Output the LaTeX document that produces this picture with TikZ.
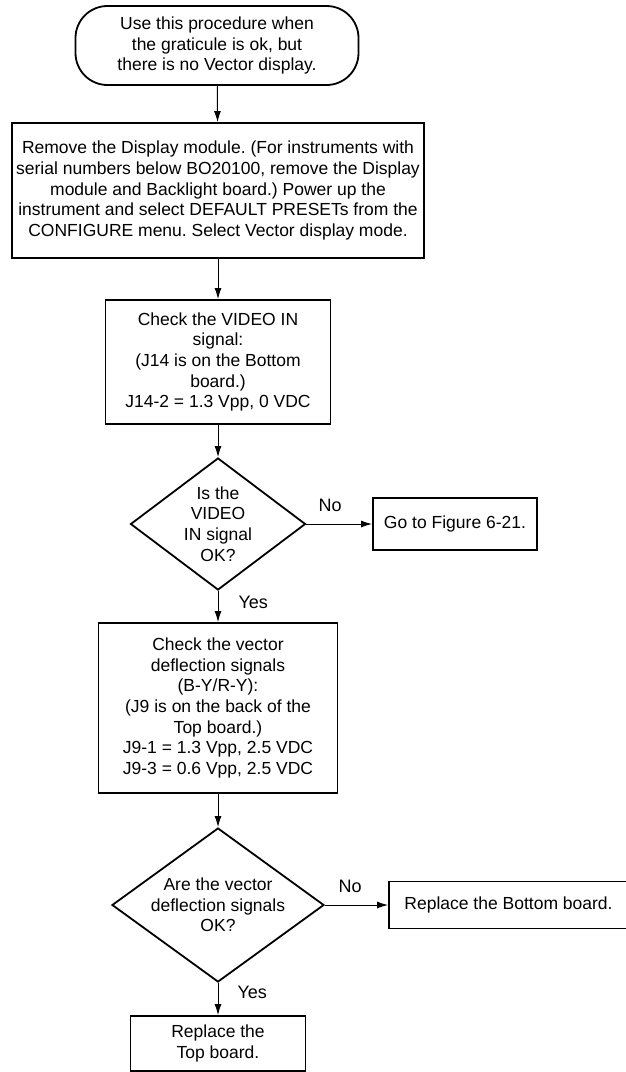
\documentclass[tikz,border=0pt]{standalone}
\usepackage{fontspec}
\setmainfont{Liberation Sans}
\usepackage{tikz}
\usetikzlibrary{shapes.geometric,arrows.meta}
\tikzset{
  blok/.style={draw,line width=1.8pt,align=center,inner sep=0pt},
  pitanje/.style={blok,diamond,shape aspect=#1},
  tok/.style={-{Latex[length=11pt,width=7pt]},line width=1pt},
  oznaka/.style={inner sep=0pt,font=\fontsize{18}{20}\selectfont}
}
\frenchspacing

\begin{document}
\begin{tikzpicture}[x=1pt,y=-1pt,font=\fontsize{17.5}{20.7}\selectfont]
\useasboundingbox (0,0) rectangle (625,1072);
% ---- GLAVNI STUPAC ----
\node[blok,rounded corners=32pt,minimum width=283pt,minimum height=79pt] (start) at (217,45.5)
  {Use this procedure when\\ the graticule is ok, but\\ there is no Vector display.};
\node[blok,minimum width=412pt,minimum height=135pt] (ukloni) at (218,190.5)
  {Remove the Display module. (For instruments with\\ serial numbers below BO20100, remove the Display\\
   module and Backlight board.) Power up the\\ instrument and select DEFAULT PRESETs from the\\
   CONFIGURE menu. Select Vector display mode.};
\node[blok,minimum width=225pt,minimum height=124pt] (video) at (218,362)
  {Check the VIDEO IN\\ signal:\\ (J14 is on the Bottom\\ board.)\\ J14-2 = 1.3 Vpp, 0 VDC};
\node[pitanje=1.31,minimum width=175pt,minimum height=132pt] (pit1) at (218,524)
  {Is the\\ VIDEO\\ IN signal\\ OK?};
\node[blok,minimum width=239pt,minimum height=170pt] (otklon) at (218,708)
  {Check the vector\\ deflection signals\\ (B-Y/R-Y):\\ (J9 is on the back of the\\ Top board.)\\
   J9-1 = 1.3 Vpp, 2.5 VDC\\ J9-3 = 0.6 Vpp, 2.5 VDC};
\node[pitanje=1.377,minimum width=212pt,minimum height=154pt] (pit2) at (218,905)
  {Are the vector\\ deflection signals\\ OK?};
\node[blok,minimum width=175pt,minimum height=55pt] (gornja) at (218,1043.5)
  {Replace the\\ Top board.};
% ---- DESNO ----
\node[blok,minimum width=164pt,minimum height=52pt] (slika) at (455,524) {Go to Figure 6-21.};
\node[blok,minimum width=239pt,minimum height=47pt] (donja) at (508.5,905) {Replace the Bottom board.};
% ---- VEZE ----
\draw[tok] (start) -- (ukloni);
\draw[tok] (ukloni) -- (video);
\draw[tok] (video) -- (pit1);
\draw[tok] (pit1.east) -- node[oznaka,above=12pt,pos=.36]{No} (slika.west);
\draw[tok] (pit1.south) -- node[oznaka,right=20pt,pos=.36]{Yes} (otklon.north);
\draw[tok] (otklon) -- (pit2);
\draw[tok] (pit2.east) -- node[oznaka,above=12pt,pos=.4]{No} (donja.west);
\draw[tok] (pit2.south) -- node[oznaka,right=19pt,pos=.3]{Yes} (gornja.north);
\end{tikzpicture}
\end{document}
